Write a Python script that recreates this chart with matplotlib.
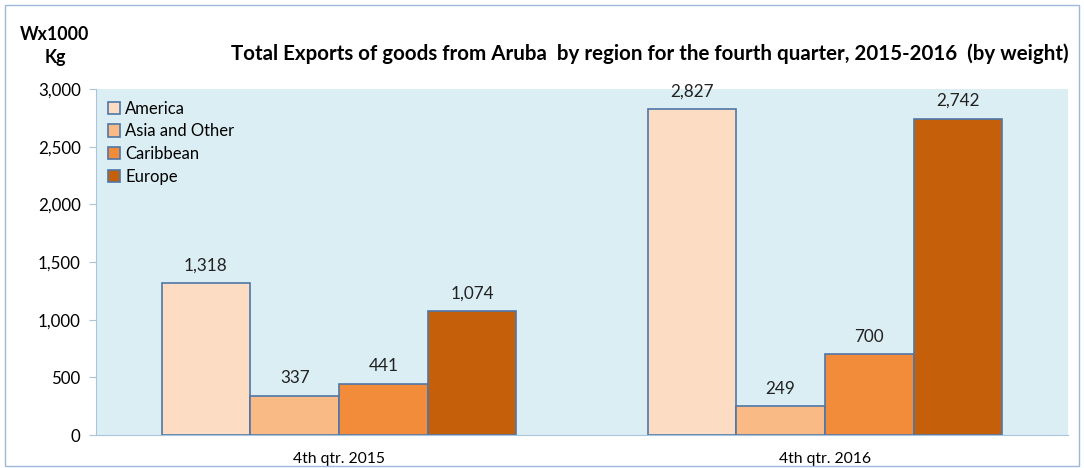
import matplotlib.pyplot as plt
import numpy as np
from matplotlib.patches import Rectangle

quarters = ['4th qtr. 2015', '4th qtr. 2016']
regions = ['America', 'Asia and Other', 'Caribbean', 'Europe']
america = [1318, 2827]
asia_other = [337, 249]
caribbean = [441, 700]
europe = [1074, 2742]
colors = ['#FCDCC3', '#F9BA86', '#F38C3A', '#C55F0A']

plt.rcParams['font.family'] = ['Lato', 'DejaVu Sans']

fig = plt.figure(figsize=(10.84, 4.68), dpi=100)
ax = fig.add_axes([96 / 1084, 1 - 435 / 468, 972 / 1084, 346 / 468])
fig.patches.append(Rectangle((5 / 1084, 2 / 468), 1 - 10 / 1084, 1 - 7 / 468,
                             transform=fig.transFigure, fill=False,
                             edgecolor='#9DB9D9', linewidth=1))

x = np.arange(len(quarters))
w = 0.1825
series = [america, asia_other, caribbean, europe]
for i, (vals, name, c) in enumerate(zip(series, regions, colors)):
    pos = x + (i - 1.5) * w
    ax.bar(pos, vals, w, color=c, edgecolor='#4F76A8', linewidth=1.2, label=name)
    for p, v in zip(pos, vals):
        ax.annotate(f'{v:,}', (p, v), xytext=(0, 7), textcoords='offset points',
                    ha='center', va='bottom', fontsize=12.3, color='#222222')

ax.set_facecolor('#DBEEF3')
ax.set_xlim(-0.5, 1.5)
ax.set_ylim(0, 3000)
ax.set_yticks(range(0, 3001, 500))
ax.yaxis.set_major_formatter(plt.FuncFormatter(lambda v, _: f'{int(v):,}'))
ax.set_xticks(x)
ax.set_xticklabels(quarters)
ax.tick_params(axis='x', length=0, pad=12, labelsize=11.3)
ax.tick_params(axis='y', length=5, color='#A9C4DD', labelsize=12.2, pad=6)
for s in ['top', 'right']:
    ax.spines[s].set_visible(False)
ax.spines['left'].set_color('#A9C4DD')
ax.spines['bottom'].set_color('#A9C4DD')

ax.legend(loc='upper left', frameon=False, fontsize=12, handlelength=0.75,
          handleheight=0.75, handletextpad=0.3, labelspacing=0.4,
          bbox_to_anchor=(0.0, 1.0), borderaxespad=0.3)

fig.text(650 / 1084, 1 - 54 / 468,
         'Total Exports of goods from Aruba  by region for the fourth quarter, 2015-2016  (by weight)',
         ha='center', va='center', fontsize=14.8, fontweight='bold')
fig.text(55 / 1084, 1 - 46 / 468, 'Wx1000\nKg', ha='center', va='center',
         fontsize=12.8, fontweight='bold', linespacing=1.45)

fig.savefig('out.png', dpi=100)
